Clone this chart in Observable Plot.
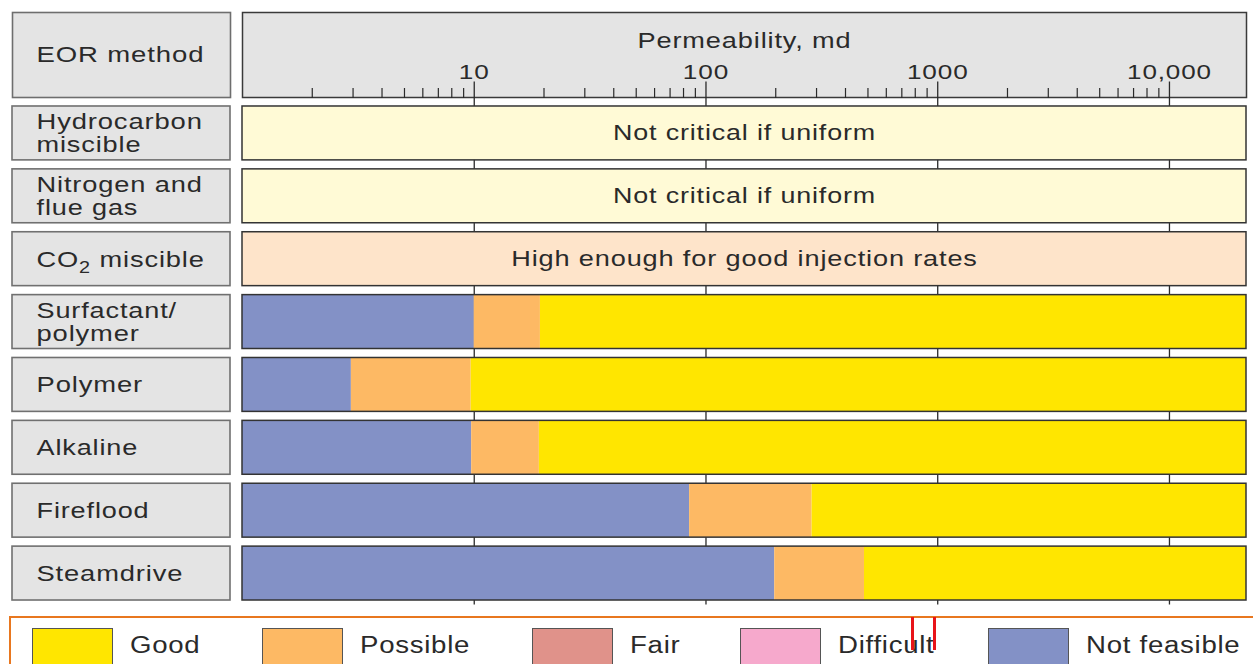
<!DOCTYPE html>
<html>
<head>
<meta charset="utf-8">
<script src="https://cdn.jsdelivr.net/npm/d3@7"></script>
<script src="https://cdn.jsdelivr.net/npm/@observablehq/plot@0.6"></script>
<style>
  html, body { margin: 0; padding: 0; background: #fff; overflow: hidden; width: 1253px; height: 664px; }
  #chart { position: absolute; left: 0; top: 0; }
  #legend { position: absolute; left: 9px; top: 616px; width: 1300px; height: 80px; border: 2px solid #e8771f; box-sizing: border-box; }
  .sw { position: absolute; top: 10px; width: 81px; height: 44px; border: 1.5px solid #555; box-sizing: border-box; }
  .lt { position: absolute; top: 15.5px; font: 23px "Liberation Sans", Arial, sans-serif; letter-spacing: 0.6px; color: #2a2a2a; transform: scaleX(1.2); transform-origin: 0 50%; white-space: nowrap; line-height: 1; }
  .mark { position: absolute; top: 617px; width: 3px; height: 33px; background: #e8141a; }
</style>
</head>
<body>
<div id="chart"></div>
<div id="legend"></div>
<div class="mark" style="left:911px"></div>
<div class="mark" style="left:933px"></div>
<script>
// ---------- data ----------
const xDomain = [1, 21500];
const methods = ["Hydrocarbon miscible", "Nitrogen and flue gas", "CO2 miscible", "Surfactant/polymer", "Polymer", "Alkaline", "Fireflood", "Steamdrive"];
const methodLines = ["Hydrocarbon\nmiscible", "Nitrogen and\nflue gas", "CO2 miscible", "Surfactant/\npolymer", "Polymer", "Alkaline", "Fireflood", "Steamdrive"];
const textRows = ["Hydrocarbon miscible", "Nitrogen and flue gas", "CO2 miscible"];
const textRowNotes = ["Not critical if uniform", "Not critical if uniform", "High enough for good injection rates"];
const ratedMethods = ["Surfactant/polymer", "Polymer", "Alkaline", "Fireflood", "Steamdrive"];
const notFeasibleTo = [10, 2.95, 9.75, 85, 198];
const possibleTo = [19.3, 9.7, 19.1, 287, 483];
const ratings = ["Good", "Possible", "Fair", "Difficult", "Not feasible"];
const majorTicks = [10, 100, 1000, 10000];
const majorTickLabels = ["10", "100", "1000", "10,000"];
const minorTicks = [2, 3, 4, 5, 6, 7, 8, 9, 20, 30, 40, 50, 60, 70, 80, 90, 200, 300, 400, 500, 600, 700, 800, 900, 2000, 3000, 4000, 5000, 6000, 7000, 8000, 9000];
const axisTitle = "Permeability, md";
const headerLabel = "EOR method";

// ---------- styles ----------
const ratingColors = ["#ffe600", "#fdb964", "#e0928a", "#f6a9cc", "#8391c6"];
const textRowFills = ["#fffad6", "#fffad6", "#fee4ca"];
const boxFill = "#e4e4e4";
const FONT = '"Liberation Sans", Arial, sans-serif';
const INK = "#2a2a2a";

const segments = ratedMethods.flatMap((m, i) => [
  {method: m, x1: xDomain[0], x2: notFeasibleTo[i], rating: "Not feasible"},
  {method: m, x1: notFeasibleTo[i], x2: possibleTo[i], rating: "Possible"},
  {method: m, x1: possibleTo[i], x2: xDomain[1], rating: "Good"}
]);

const chart = Plot.plot({
  width: 1253,
  height: 610,
  marginLeft: 242,
  marginRight: 7,
  marginTop: 101.5,
  marginBottom: 5.5,
  style: {fontFamily: FONT, color: INK, background: "#fff", overflow: "visible"},
  x: {type: "log", domain: xDomain, label: null},
  y: {type: "band", domain: methods, paddingInner: 9 / 63, paddingOuter: 4.5 / 63, round: false, axis: null},
  color: {domain: ratings, range: ratingColors},
  marks: [
    // header boxes
    Plot.frame({fill: boxFill, stroke: "#3a3a3a", strokeWidth: 1.5, dy: -89.5, insetBottom: 418}),
    Plot.frame({fill: boxFill, stroke: "#6e6e6e", strokeWidth: 1.6, dy: -89.5, insetBottom: 418, dx: -230, insetRight: 786}),
    // decade grid lines
    Plot.ruleX(majorTicks, {stroke: "#2a2a2a", strokeWidth: 1.3, insetTop: -20}),
    // minor ticks
    Plot.axisX({anchor: "top", ticks: minorTicks, tickSize: 10, tickFormat: () => "", label: null, dy: -4.5, stroke: "#2a2a2a", strokeWidth: 1.2}),
    Plot.text(majorTicks, {x: d => d, text: (d, i) => majorTickLabels[i], frameAnchor: "top", lineAnchor: "middle", dy: -30.2, fontSize: 21, fill: INK}),
    Plot.text([axisTitle], {frameAnchor: "top", lineAnchor: "middle", dy: -61, fontSize: 22, fill: INK}),
    Plot.text([headerLabel], {frameAnchor: "top-left", textAnchor: "start", lineAnchor: "middle", dx: -206, dy: -47.5, fontSize: 22, fill: INK}),
    // method label boxes
    Plot.barX(methods, {y: d => d, x1: xDomain[0], x2: xDomain[1], fill: boxFill, stroke: "#707070", strokeWidth: 1.6, dx: -230, insetRight: 786}),
    Plot.text(methods, {y: d => d, text: (d, i) => methodLines[i], frameAnchor: "left", textAnchor: "start", lineAnchor: "middle", lineHeight: 1.045, dx: -206, dy: 0, fontSize: 22, fill: INK}),
    // text-only rows
    ...textRows.map((m, i) => Plot.barX([m], {y: d => d, x1: xDomain[0], x2: xDomain[1], fill: textRowFills[i], stroke: "#333", strokeWidth: 1.5})),
    Plot.text(textRows, {y: d => d, text: (d, i) => textRowNotes[i], lineAnchor: "middle", fontSize: 22, fill: INK}),
    // rated bars
    Plot.barX(segments, {y: "method", x1: "x1", x2: "x2", fill: "rating"}),
    Plot.barX(ratedMethods, {y: d => d, x1: xDomain[0], x2: xDomain[1], fill: "none", stroke: "#333", strokeWidth: 1.5})
  ]
});

document.getElementById("chart").append(chart);

// CO2 subscript and horizontal stretch to match the reference typeface
const S = 1.32;
const ns = "http://www.w3.org/2000/svg";
function stretch(el) {
  const w0 = el.getComputedTextLength();
  if (!(w0 > 0)) return;
  el.style.letterSpacing = "0.7px";
  el.setAttribute("textLength", (w0 * S).toFixed(2));
  el.setAttribute("lengthAdjust", "spacingAndGlyphs");
}
chart.querySelectorAll("text").forEach(t => {
  if (t.children.length === 0 && t.textContent === "CO2 miscible") {
    t.textContent = "";
    const a = document.createElementNS(ns, "tspan"); a.textContent = "CO";
    const b = document.createElementNS(ns, "tspan"); b.textContent = "2"; b.setAttribute("dy", "6"); b.setAttribute("font-size", "16");
    const c = document.createElementNS(ns, "tspan"); c.textContent = " miscible"; c.setAttribute("dy", "-6");
    t.append(a, b, c);
    stretch(t);
    t.dataset.done = "1";
  }
});
chart.querySelectorAll("text").forEach(t => {
  if (t.dataset.done) return;
  const tspans = t.querySelectorAll("tspan");
  const targets = tspans.length ? [...tspans] : [t];
  targets.forEach(stretch);
});

// legend
const legendLefts = [21, 251, 521, 729, 977];
const legend = d3.select("#legend");
ratings.forEach((r, i) => {
  legend.append("div").attr("class", "sw").style("left", legendLefts[i] + "px").style("background", ratingColors[i]);
  legend.append("div").attr("class", "lt").style("left", (legendLefts[i] + 98) + "px").text(r);
});
</script>
</body>
</html>
